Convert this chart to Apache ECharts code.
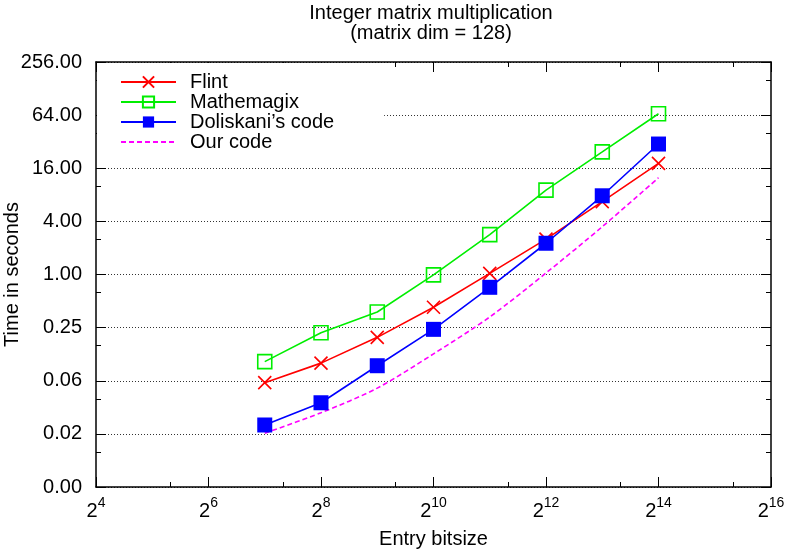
<!DOCTYPE html>
<html>
<head>
<meta charset="utf-8">
<script src="https://cdn.jsdelivr.net/npm/echarts@6/dist/echarts.min.js"></script>
<style>
  html, body { margin: 0; padding: 0; background: #fff; }
  #main { width: 787px; height: 551px; }
</style>
</head>
<body>
<div id="main"></div>
<script>
// entry bitsize (x) and times in seconds
var bitsizes = [128, 256, 512, 1024, 2048, 4096, 8192, 16384];
var flint = [0.0595, 0.099, 0.194, 0.425, 1.03, 2.52, 6.7, 18.2];
var mathemagix = [0.103, 0.219, 0.376, 0.99, 2.83, 9.05, 24.5, 66.4];
var doliskani = [0.0197, 0.0352, 0.0925, 0.239, 0.716, 2.26, 7.8, 30.1];
var ourCode = [0.0159, 0.0271, 0.0516, 0.126, 0.33, 1.04, 3.48, 12.5];

var FONT = 'Liberation Sans, Arial, Helvetica, sans-serif';

function pairs(ys) {
    var out = [];
    for (var i = 0; i < bitsizes.length; i++) {
        out.push([bitsizes[i], ys[i]]);
    }
    return out;
}

var chart = echarts.init(document.getElementById('main'));

var tickStyle = { show: true, inside: true, length: 10, lineStyle: { color: '#000', width: 1 } };
var minorStyle = { show: true, splitNumber: 2, length: 5, lineStyle: { color: '#000', width: 1 } };
var frameLine = { show: true, onZero: false, lineStyle: { color: '#000', width: 1.5 } };

var option = {
    animation: false,
    backgroundColor: '#fff',
    textStyle: { fontFamily: FONT },
    graphic: [
        { type: 'text', x: 431, y: 3, style: { text: 'Integer matrix multiplication', align: 'center', fontSize: 20, fontFamily: FONT, fill: '#000' } },
        { type: 'text', x: 431, y: 23, style: { text: '(matrix dim = 128)', align: 'center', fontSize: 20, fontFamily: FONT, fill: '#000' } }
    ],
    grid: { left: 96, right: 16, top: 62, bottom: 64, outerBoundsMode: 'none', containLabel: false },
    legend: {
        orient: 'vertical',
        left: 97, top: 63,
        padding: [9, 50, 8, 23],
        backgroundColor: '#fff',
        itemWidth: 55, itemHeight: 14, itemGap: 0,
        textStyle: { fontSize: 20, lineHeight: 20, color: '#000', fontFamily: FONT, padding: [0, 0, 0, 9] },
        data: ['Flint', 'Mathemagix', 'Doliskani\u2019s code',
            { name: 'Our code', itemStyle: { color: 'rgba(0,0,0,0)', borderWidth: 0 } }]
    },
    xAxis: [{
        type: 'log', logBase: 2, min: 16, max: 65536, interval: 2,
        name: 'Entry bitsize', nameLocation: 'middle', nameGap: 42,
        nameTextStyle: { fontSize: 20, color: '#000', fontFamily: FONT },
        axisLine: frameLine,
        axisTick: tickStyle,
        minorTick: minorStyle,
        splitLine: { show: false },
        axisLabel: {
            margin: 9, color: '#000',
            formatter: function (v) { return '{b|2}{s|' + Math.round(Math.log2(v)) + '}'; },
            rich: {
                b: { fontSize: 20, fontFamily: FONT, color: '#000', verticalAlign: 'bottom', padding: [5, 0, 0, 0] },
                s: { fontSize: 14, fontFamily: FONT, color: '#000', verticalAlign: 'top' }
            }
        }
    }, {
        type: 'log', logBase: 2, min: 16, max: 65536, interval: 2, position: 'top',
        axisLine: frameLine, axisTick: tickStyle, minorTick: minorStyle,
        axisLabel: { show: false }, splitLine: { show: false }
    }],
    yAxis: [{
        type: 'log', logBase: 4, min: 0.00390625, max: 256, interval: 1,
        name: 'Time in seconds', nameLocation: 'middle', nameGap: 74, nameRotate: 90,
        nameMoveOverlap: false,
        nameTextStyle: { fontSize: 20, color: '#000', fontFamily: FONT },
        axisLine: frameLine,
        axisTick: tickStyle,
        minorTick: minorStyle,
        splitLine: { show: true, lineStyle: { color: '#333', width: 1, type: [1, 2] } },
        axisLabel: {
            margin: 14, fontSize: 20, color: '#000', fontFamily: FONT,
            formatter: function (v) { return v.toFixed(2); }
        }
    }, {
        type: 'log', logBase: 4, min: 0.00390625, max: 256, interval: 1, position: 'right',
        axisLine: frameLine, axisTick: tickStyle, minorTick: minorStyle,
        axisLabel: { show: false }, splitLine: { show: false }
    }],
    series: [{
        name: 'Flint', type: 'line',
        data: pairs(flint),
        symbol: 'path://M0,0L10,10M10,0L0,10', symbolSize: 13,
        itemStyle: { color: '#ff0000', borderColor: '#ff0000', borderWidth: 1.6 },
        lineStyle: { color: '#ff0000', width: 1.6 }
    }, {
        name: 'Mathemagix', type: 'line',
        data: pairs(mathemagix),
        symbol: 'rect', symbolSize: 14,
        itemStyle: { color: 'rgba(0,0,0,0)', borderColor: '#00ee00', borderWidth: 1.6 },
        lineStyle: { color: '#00ee00', width: 1.6 }
    }, {
        name: 'Doliskani\u2019s code', type: 'line',
        data: pairs(doliskani),
        symbol: 'rect', symbolSize: 15,
        itemStyle: { color: '#0000ff' },
        lineStyle: { color: '#0000ff', width: 1.6 }
    }, {
        name: 'Our code', type: 'line',
        data: pairs(ourCode),
        symbol: 'none', smooth: 0.3,
        itemStyle: { color: '#ff00ff' },
        lineStyle: { color: '#ff00ff', width: 1.6, type: [5, 3] }
    }]
};

chart.setOption(option);
</script>
</body>
</html>
